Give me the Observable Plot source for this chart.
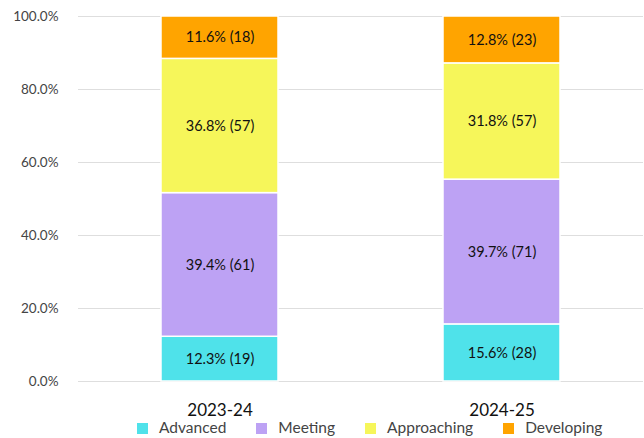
<!DOCTYPE html>
<html>
<head>
<meta charset="utf-8">
<script src="https://cdn.jsdelivr.net/npm/d3@7"></script>
<script src="https://cdn.jsdelivr.net/npm/@observablehq/plot@0.6"></script>
<style>
  html, body { margin: 0; padding: 0; background: #fff; }
  body { width: 644px; height: 438px; overflow: hidden; font-family: Lato, sans-serif; }
  #legend { display: flex; align-items: center; padding-left: 137px; margin-top: -5px; font-size: 15.5px; color: #444; height: 20px; }
  #legend .item { display: flex; align-items: center; margin-right: 30px; }
  #legend .sw { width: 11px; height: 11px; margin-right: 11px; margin-top: 2px; }
</style>
</head>
<body>
<div id="chart"></div>
<div id="legend"></div>
<script>
const years = ["2023-24", "2024-25"];
const levels = ["Advanced", "Meeting", "Approaching", "Developing"];
const colors = ["#4fe2ea", "#bda2f4", "#f6f65a", "#ffa400"];
// percentages and counts per level, in order of years
const advancedPct = [12.3, 15.6], advancedN = [19, 28];
const meetingPct = [39.4, 39.7], meetingN = [61, 71];
const approachingPct = [36.8, 31.8], approachingN = [57, 57];
const developingPct = [11.6, 12.8], developingN = [18, 23];
const yTicks = [0, 0.2, 0.4, 0.6, 0.8, 1.0];

const pcts = [advancedPct, meetingPct, approachingPct, developingPct];
const counts = [advancedN, meetingN, approachingN, developingN];
const data = [];
levels.forEach((lvl, i) => years.forEach((yr, j) => {
  data.push({year: yr, level: lvl, pct: pcts[i][j], n: counts[i][j]});
}));

const stackOpts = {x: "year", y: "n", z: "level", offset: "normalize", order: levels};

const chart = Plot.plot({
  width: 644,
  height: 422,
  marginTop: 16,
  marginBottom: 41,
  marginLeft: 78,
  marginRight: 1,
  style: {fontFamily: "Lato, sans-serif", background: "#fff"},
  x: {domain: years, paddingInner: 0.585, paddingOuter: 0.2925, label: null},
  y: {domain: [0, 1], label: null},
  color: {domain: levels, range: colors},
  marks: [
    Plot.gridY(yTicks, {stroke: "#dedede", strokeOpacity: 1, strokeWidth: 1.2}),
    Plot.axisY(yTicks, {tickSize: 0, tickPadding: 20, fontSize: 13.5, fill: "#444",
      tickFormat: d => (d * 100).toFixed(1) + "%", label: null}),
    Plot.axisX({tickSize: 0, tickPadding: 22, fontSize: 17, fill: "#111", label: null}),
    Plot.barY(data, Plot.stackY({...stackOpts, fill: "level", stroke: "white", strokeWidth: 1.5})),
    Plot.text(data, Plot.stackY({...stackOpts, text: d => `${d.pct.toFixed(1)}% (${d.n})`,
      fontSize: 14.5, fill: "#111"}))
  ]
});
document.getElementById("chart").appendChild(chart);

const legend = document.getElementById("legend");
levels.forEach((lvl, i) => {
  const it = document.createElement("div");
  it.className = "item";
  const sw = document.createElement("span");
  sw.className = "sw";
  sw.style.background = colors[i];
  const t = document.createElement("span");
  t.textContent = lvl;
  it.appendChild(sw); it.appendChild(t);
  legend.appendChild(it);
});
</script>
</body>
</html>
